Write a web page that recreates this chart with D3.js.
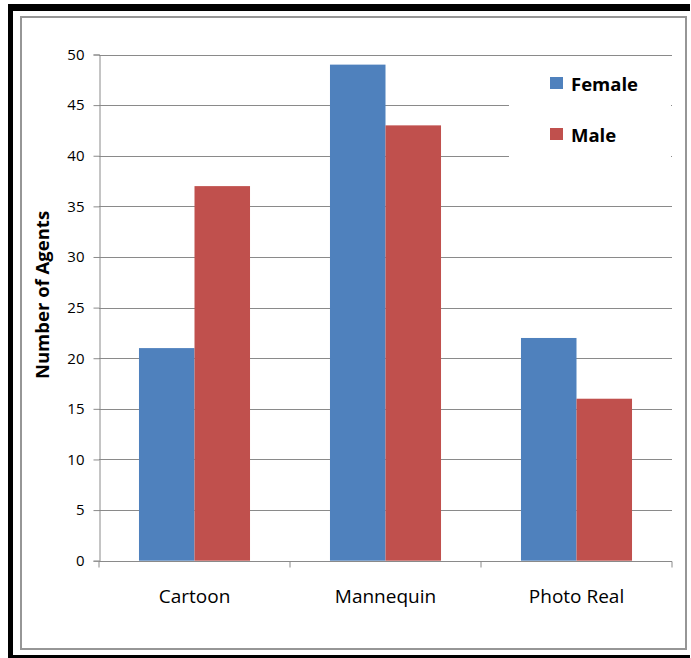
<!DOCTYPE html>
<html><head><meta charset="utf-8">
<script src="https://cdn.jsdelivr.net/npm/d3@7"></script>
<style>body{margin:0;background:#fff}svg{display:block}</style>
</head><body>
<script>
const categories = ["Cartoon", "Mannequin", "Photo Real"];
const seriesNames = ["Female", "Male"];
const female = [21, 49, 22];
const male = [37, 43, 16];
const yTicks = [0, 5, 10, 15, 20, 25, 30, 35, 40, 45, 50];
const colors = ["#4F81BD", "#C0504D"];
const yTitle = "Number of Agents";

const W = 691, H = 658;
const svg = d3.select("body").append("svg").attr("width", W).attr("height", H);

// outer black frame
svg.append("rect").attr("x", 0).attr("y", 0).attr("width", W).attr("height", H).attr("fill", "#fff");
svg.append("rect").attr("x", 8).attr("y", 4).attr("width", 682).attr("height", 654).attr("fill", "#000");
svg.append("rect").attr("x", 13).attr("y", 11).attr("width", 678).attr("height", 644).attr("fill", "#fff");
// inner gray frame
svg.append("rect").attr("x", 21).attr("y", 17).attr("width", 665).attr("height", 632)
  .attr("fill", "none").attr("stroke", "#969696").attr("stroke-width", 2);

const pLeft = 99, pRight = 672, pTop = 54.5, pBottom = 560.7;
const x0 = d3.scaleBand().domain(categories).range([pLeft, pRight]).paddingInner(0).paddingOuter(0);
const x1 = d3.scaleBand().domain(seriesNames).range([0, x0.bandwidth()]).paddingInner(0).paddingOuter(0.72);
const y = d3.scaleLinear().domain([0, 50]).range([pBottom, pTop]);

// gridlines
svg.append("g").selectAll("line").data(yTicks.filter(d => d > 0)).join("line")
  .attr("x1", pLeft).attr("x2", pRight)
  .attr("y1", d => Math.round(y(d)) + 0.5).attr("y2", d => Math.round(y(d)) + 0.5)
  .attr("stroke", "#8a8a8a").attr("stroke-width", 1);

// bars
const data = categories.map((c, i) => ({cat: c, vals: [female[i], male[i]]}));
const g = svg.append("g").selectAll("g").data(data).join("g")
  .attr("transform", d => `translate(${x0(d.cat)},0)`);
g.selectAll("rect").data(d => d.vals.map((v, j) => ({s: seriesNames[j], v, j}))).join("rect")
  .attr("x", d => x1(d.s)).attr("width", x1.bandwidth())
  .attr("y", d => y(d.v)).attr("height", d => y(0) - y(d.v))
  .attr("fill", d => colors[d.j]);

// y axis
const yAxis = d3.axisLeft(y).tickValues(yTicks).tickSize(6).tickPadding(9).tickFormat(d3.format("d"));
const ya = svg.append("g").attr("transform", `translate(${pLeft + 0.5},0)`).call(yAxis);
ya.select(".domain").attr("stroke", "#8a8a8a");
ya.selectAll(".tick line").attr("stroke", "#8a8a8a");
ya.selectAll(".tick text").attr("font-family", "'Open Sans', sans-serif").attr("font-size", 15).attr("fill", "#000");

// x axis
const xa = svg.append("g").attr("transform", `translate(0,${Math.round(pBottom) + 0.5})`);
xa.append("line").attr("x1", pLeft).attr("x2", pRight).attr("stroke", "#8a8a8a");
xa.selectAll("line.t").data(d3.range(categories.length + 1)).join("line").attr("class", "t")
  .attr("x1", i => pLeft + i * x0.step()).attr("x2", i => pLeft + i * x0.step())
  .attr("y1", 0).attr("y2", 6).attr("stroke", "#8a8a8a");
xa.selectAll("text").data(categories).join("text")
  .attr("x", d => x0(d) + x0.bandwidth() / 2).attr("y", 41)
  .attr("text-anchor", "middle").attr("font-family", "'Open Sans', sans-serif")
  .attr("font-size", 19).attr("fill", "#000").text(d => d);

// y title
svg.append("text").attr("transform", `translate(49,295) rotate(-90)`)
  .attr("text-anchor", "middle").attr("font-family", "'Open Sans', sans-serif")
  .attr("font-weight", "bold").attr("font-size", 18.5).attr("fill", "#000").text(yTitle);

// legend
const leg = svg.append("g");
leg.append("rect").attr("x", 509).attr("y", 62).attr("width", 162).attr("height", 128).attr("fill", "#fff");
const li = leg.selectAll("g").data(seriesNames).join("g")
  .attr("transform", (d, i) => `translate(550,${77 + i * 51})`);
li.append("rect").attr("width", 13).attr("height", 12).attr("fill", (d, i) => colors[i]);
li.append("text").attr("x", 21).attr("y", 14).attr("font-family", "'Open Sans', sans-serif")
  .attr("font-weight", "bold").attr("font-size", 18.5).attr("fill", "#000").text(d => d);
</script>
</body></html>
